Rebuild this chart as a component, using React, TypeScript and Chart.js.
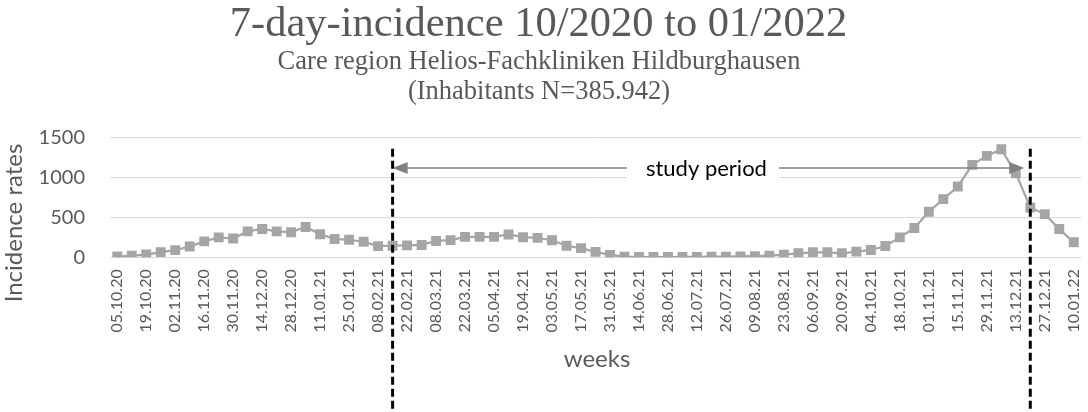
import React, { useEffect, useRef } from 'react';
import { Chart, registerables } from 'chart.js';

Chart.register(...registerables);

const weeks = [
  '05.10.20', '12.10.20', '19.10.20', '26.10.20', '02.11.20', '09.11.20', '16.11.20', '23.11.20',
  '30.11.20', '07.12.20', '14.12.20', '21.12.20', '28.12.20', '04.01.21', '11.01.21', '18.01.21',
  '25.01.21', '01.02.21', '08.02.21', '15.02.21', '22.02.21', '01.03.21', '08.03.21', '15.03.21',
  '22.03.21', '29.03.21', '05.04.21', '12.04.21', '19.04.21', '26.04.21', '03.05.21', '10.05.21',
  '17.05.21', '24.05.21', '31.05.21', '07.06.21', '14.06.21', '21.06.21', '28.06.21', '05.07.21',
  '12.07.21', '19.07.21', '26.07.21', '02.08.21', '09.08.21', '16.08.21', '23.08.21', '30.08.21',
  '06.09.21', '13.09.21', '20.09.21', '27.09.21', '04.10.21', '11.10.21', '18.10.21', '25.10.21',
  '01.11.21', '08.11.21', '15.11.21', '22.11.21', '29.11.21', '06.12.21', '13.12.21', '20.12.21',
  '27.12.21', '03.01.22', '10.01.22',
];

const incidence = [
  10, 20, 35, 65, 90, 135, 200, 250, 235, 325, 355, 325, 315, 380, 290, 230,
  220, 195, 140, 145, 150, 155, 205, 215, 256, 256, 256, 286, 252, 243, 214, 145,
  115, 68, 30, 9, 4, 3, 3, 4, 5, 7, 9, 12, 14, 20, 33, 50,
  63, 63, 50, 71, 92, 142, 250, 367, 571, 730, 888, 1159, 1272, 1355, 1055, 625,
  542, 354, 188,
];

const yMin = 0;
const yMax = 1500;
const yStep = 500;

const titleText = '7-day-incidence 10/2020 to 01/2022';
const subtitleLines = ['Care region Helios-Fachkliniken Hildburghausen', '(Inhabitants N=385.942)'];
const yAxisTitle = 'Incidence rates';
const xAxisTitle = 'weeks';
const studyLabel = 'study period';
const studyStartIndex = 19;
const studyEndIndex = 63;
const dashedTopValue = 1360;
const arrowValue = 1120;

const GREY = '#595959';
const MARK = '#a5a5a5';

const overlayPlugin = {
  id: 'overlay',
  afterDatasetsDraw(chart: any) {
    const { ctx } = chart;
    const xs = chart.scales.x;
    const ys = chart.scales.y;
    const x1 = xs.getPixelForValue(studyStartIndex);
    const x2 = xs.getPixelForValue(studyEndIndex);
    const top = ys.getPixelForValue(dashedTopValue);
    ctx.save();
    // arrow
    const ay = ys.getPixelForValue(arrowValue);
    const lt = x1;
    const rt = x2 - 6;
    ctx.strokeStyle = '#808080';
    ctx.lineWidth = 1.5;
    ctx.beginPath();
    ctx.moveTo(lt + 10, ay);
    ctx.lineTo(rt - 10, ay);
    ctx.stroke();
    ctx.fillStyle = '#808080';
    ctx.beginPath();
    ctx.moveTo(lt, ay);
    ctx.lineTo(lt + 15, ay - 6);
    ctx.lineTo(lt + 15, ay + 6);
    ctx.closePath();
    ctx.fill();
    ctx.beginPath();
    ctx.moveTo(rt, ay);
    ctx.lineTo(rt - 15, ay - 6);
    ctx.lineTo(rt - 15, ay + 6);
    ctx.closePath();
    ctx.fill();
    // label box
    ctx.font = '22px Lato';
    const tw = ctx.measureText(studyLabel).width;
    const cx = (x1 + x2) / 2 - 5;
    ctx.fillStyle = '#ffffff';
    ctx.fillRect(cx - tw / 2 - 19, ay - 13, tw + 31, 27);
    ctx.fillStyle = '#000000';
    ctx.textAlign = 'center';
    ctx.textBaseline = 'alphabetic';
    ctx.fillText(studyLabel, cx, ay + 8);
    // dashed lines
    ctx.strokeStyle = '#000000';
    ctx.lineWidth = 3;
    ctx.setLineDash([8, 4]);
    [x1, x2].forEach((x) => {
      ctx.beginPath();
      ctx.moveTo(x, top);
      ctx.lineTo(x, chart.height);
      ctx.stroke();
    });
    ctx.restore();
  },
  afterDraw(chart: any) {
    const { ctx } = chart;
    ctx.save();
    ctx.fillStyle = GREY;
    ctx.textAlign = 'center';
    ctx.textBaseline = 'alphabetic';
    ctx.font = '42.5px "Liberation Serif"';
    ctx.fillText(titleText, 538.5, 36);
    ctx.font = '26.5px "Liberation Serif"';
    ctx.fillText(subtitleLines[0], 539, 68.5);
    ctx.fillText(subtitleLines[1], 539, 99);
    ctx.font = '24px Lato';
    ctx.fillText(xAxisTitle, 597, 367);
    ctx.translate(22, 223);
    ctx.rotate(-Math.PI / 2);
    ctx.fillText(yAxisTitle, 0, 0);
    ctx.restore();
  },
};

export default function App() {
  const canvasRef = useRef<HTMLCanvasElement | null>(null);

  useEffect(() => {
    if (!canvasRef.current) return;
    Chart.defaults.font.family = 'Lato';
    const chart = new Chart(canvasRef.current, {
      type: 'line',
      data: {
        labels: weeks,
        datasets: [
          {
            data: incidence,
            borderColor: MARK,
            backgroundColor: MARK,
            borderWidth: 2.25,
            pointStyle: 'rect',
            pointRadius: 7,
            pointBorderWidth: 0,
            pointBackgroundColor: MARK,
            tension: 0,
          },
        ],
      },
      options: {
        animation: false,
        responsive: false,
        maintainAspectRatio: false,
        layout: { padding: { top: 137.7, right: 3, bottom: 0, left: 0 } },
        plugins: {
          legend: { display: false },
          title: { display: false },
          tooltip: { enabled: false },
        },
        scales: {
          x: {
            type: 'category',
            offset: true,
            grid: { display: false, drawTicks: false },
            border: { display: false },
            ticks: {
              autoSkip: false,
              minRotation: 90,
              maxRotation: 90,
              padding: 12,
              color: GREY,
              font: { size: 16, family: 'Lato' },
              callback: (_v: any, i: number) => (i % 2 === 0 ? weeks[i] : ''),
            },
            afterFit: (s: any) => {
              s.height = 412 - 257.3;
              s.paddingLeft = 0;
              s.paddingRight = 0;
            },
          },
          y: {
            min: yMin,
            max: yMax,
            grid: { color: '#d9d9d9', lineWidth: 1, drawTicks: false },
            border: { display: false },
            ticks: {
              stepSize: yStep,
              padding: 25,
              color: GREY,
              font: { size: 20, family: 'Lato' },
              callback: (v: any) => String(v),
            },
            afterFit: (s: any) => {
              s.width = 110;
              s.paddingTop = 0;
              s.paddingBottom = 0;
            },
          },
        },
      },
      plugins: [overlayPlugin],
    });
    return () => chart.destroy();
  }, []);

  return (
    <div style={{ position: 'fixed', left: 0, top: 0, width: 1088, height: 412, background: '#fff' }}>
      <canvas ref={canvasRef} width={1088} height={412} style={{ width: 1088, height: 412 }} />
    </div>
  );
}
